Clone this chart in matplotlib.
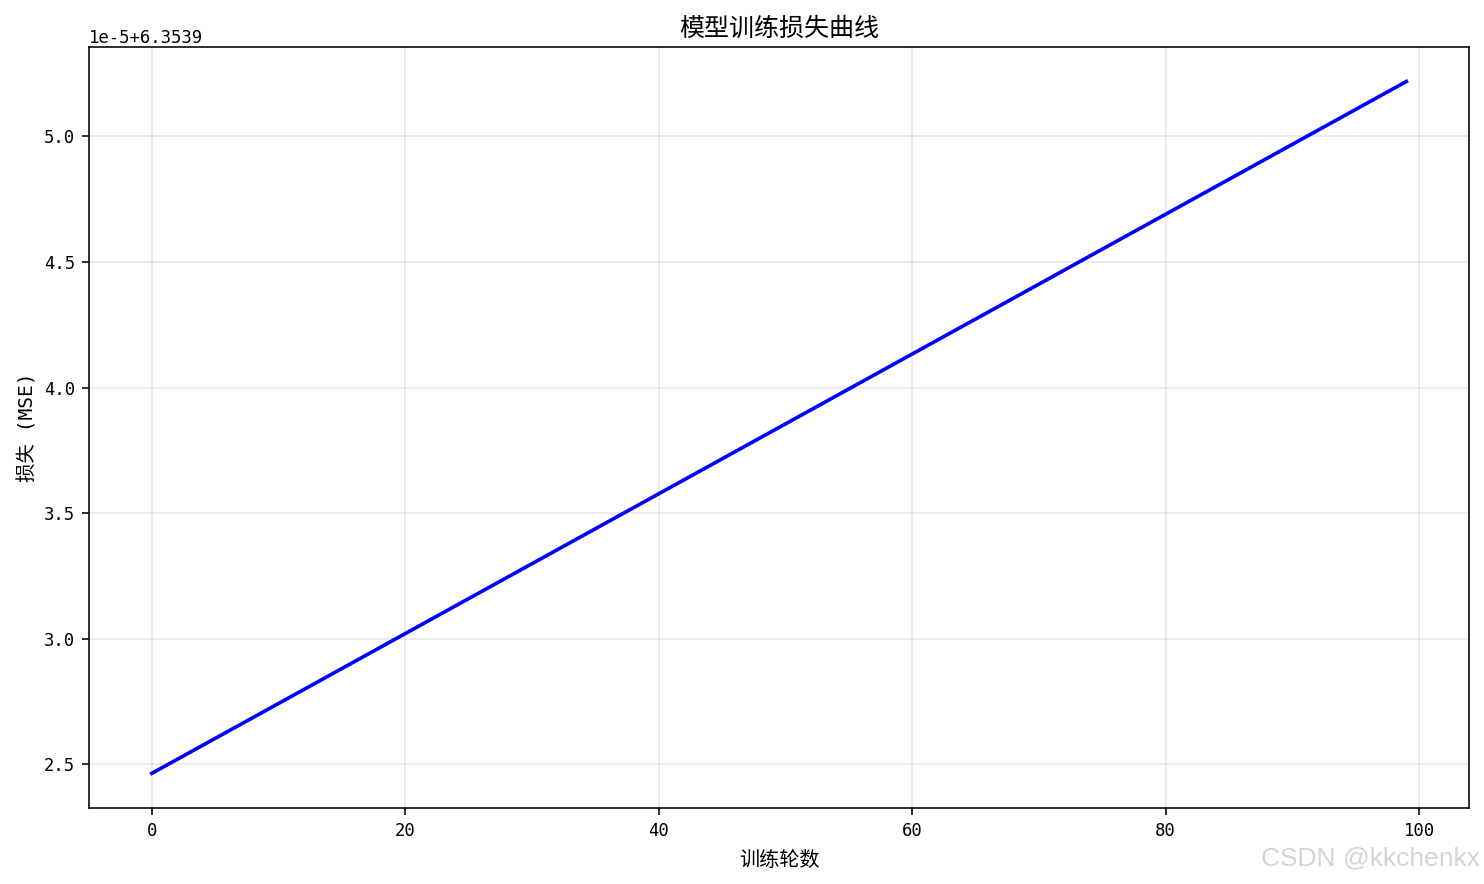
import matplotlib
matplotlib.use("Agg")
import matplotlib.pyplot as plt

plt.rcParams['font.family'] = ['Noto Sans CJK SC', 'DejaVu Sans']
plt.rcParams['axes.unicode_minus'] = False

# data (loss = 6.3539 + value*1e-5)
epochs = [0, 99]
loss_offset = 6.3539
loss_scaled = [2.464, 5.219]
loss = [loss_offset + v * 1e-5 for v in loss_scaled]

title = "模型训练损失曲线"
xlabel = "训练轮数"
ylabel = "损失 (MSE)"

mono = ['DejaVu Sans Mono', 'Noto Sans CJK SC']

fig = plt.figure(figsize=(14.84, 8.84), dpi=100)
ax = fig.add_axes([0.060, 0.086, 0.930, 0.861])
ax.plot(epochs, loss, color='blue', linewidth=2.6)
ax.grid(True, alpha=0.3, linewidth=1.1)
ax.set_title(title, fontsize=18, pad=8)
ax.set_xlabel(xlabel, fontsize=14.5, labelpad=7)
ax.set_ylabel(ylabel, fontsize=14, labelpad=5, family=mono)
ax.tick_params(length=5, width=1.15, pad=5)
for lab in ax.get_xticklabels() + ax.get_yticklabels():
    lab.set_family(mono)
    lab.set_fontsize(12.4)
ot = ax.yaxis.get_offset_text()
ot.set_family(mono)
ot.set_fontsize(12.4)
for s in ax.spines.values():
    s.set_linewidth(1.15)

fig.text(0.9975, 0.029, "CSDN @kkchenkx", ha='right', va='center',
         fontsize=19, color='#d4d4d4', family='Liberation Sans')

fig.savefig("out.png", dpi=100)
